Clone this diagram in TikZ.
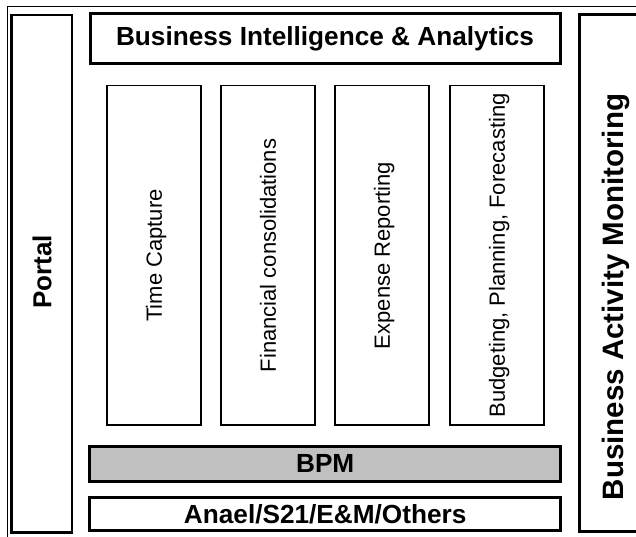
\documentclass[tikz,border=0pt]{standalone}
\usepackage{fontspec}
\setmainfont{Liberation Sans}
\begin{document}
\begin{tikzpicture}[x=1pt,y=-1pt,
  thickbox/.style={draw=black, line width=3pt, rectangle, inner sep=0pt, outer sep=0pt,
    font=\fontsize{26.2}{30}\selectfont\bfseries},
  colbox/.style={draw=black, line width=1.5pt, rectangle, inner sep=0pt, outer sep=0pt,
    minimum width=94pt, minimum height=339.5pt},
  coltext/.style={rotate=90, anchor=base, inner sep=0pt, font=\fontsize{22}{26}\selectfont},
  boldtext/.style={rotate=90, anchor=base, inner sep=0pt}]
\useasboundingbox (0,0) rectangle (636,536);
% outer frame
\coordinate (fa) at (7.8,545);
\coordinate (fb) at (7.8,6.5);
\coordinate (fc) at (645,6.5);
\draw[line width=1.3pt] (fa) -- (fb) -- (fc);
% portal
\node[thickbox, line width=2.7pt, minimum width=60.7pt, minimum height=517.5pt] (portal) at (41.65,273.75) {};
\node[boldtext, font=\fontsize{26}{30}\selectfont\bfseries] (portalt) at (51.3,272) {Portal};
% BAM
\node[thickbox, minimum width=130pt, minimum height=517pt] (bam) at (644,273) {};
\node[boldtext, font=\fontsize{29.5}{34}\selectfont\bfseries] (bamt) at (623,297) {Business Activity Monitoring};
% BI
\node[thickbox, minimum width=470pt, minimum height=50pt] (bi) at (325,38.5) {Business Intelligence \& Analytics};
% columns
\node[colbox] (c1) at (154,255.25) {};
\node[colbox] (c2) at (268,255.25) {};
\node[colbox] (c3) at (382,255.25) {};
\node[colbox] (c4) at (497,255.25) {};
\node[coltext] (t1) at (161.9,255.5) {Time Capture};
\node[coltext] (t2) at (275.9,255.5) {Financial consolidations};
\node[coltext] (t3) at (389.9,255.5) {Expense Reporting};
\node[coltext] (t4) at (504.9,255.5) {Budgeting, Planning, Forecasting};
% BPM
\node[thickbox, fill={rgb,255:red,192;green,192;blue,192}, minimum width=470.5pt, minimum height=35pt] (bpm) at (325.2,463.5) {BPM};
% Anael
\node[thickbox, minimum width=470.5pt, minimum height=33.5pt] (anael) at (325.2,514.2) {Anael/S21/E\&M/Others};
\end{tikzpicture}
\end{document}
